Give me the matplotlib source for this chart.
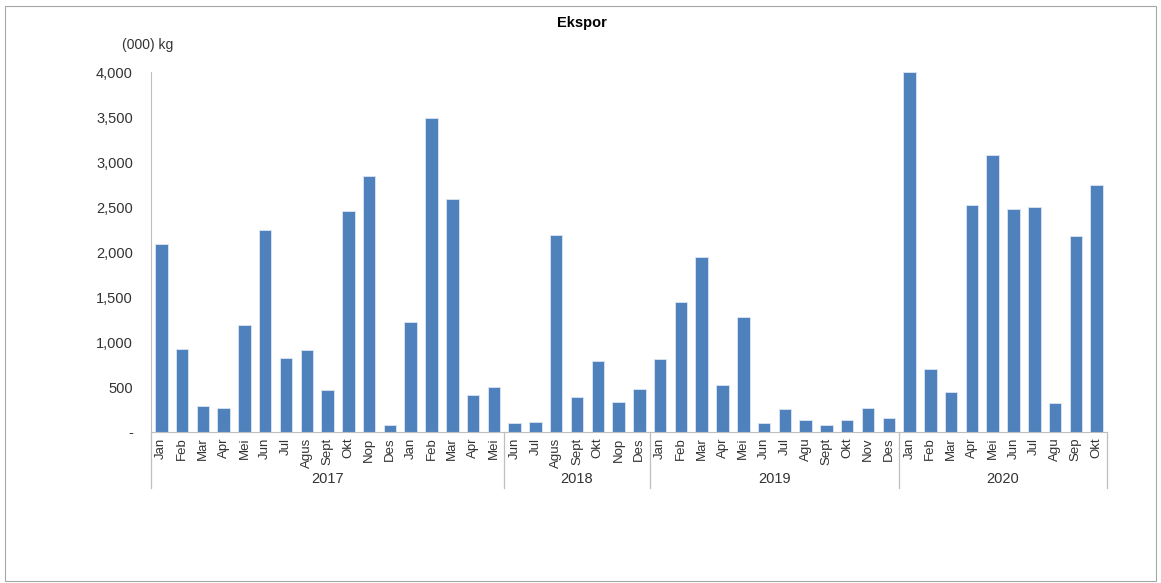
import matplotlib
matplotlib.use("Agg")
import matplotlib.pyplot as plt
from matplotlib.patches import Rectangle
from matplotlib.ticker import FuncFormatter

plt.rcParams['font.family'] = ['Liberation Sans Narrow', 'Liberation Sans', 'DejaVu Sans']

months = ["Jan", "Feb", "Mar", "Apr", "Mei", "Jun", "Jul", "Agus", "Sept", "Okt", "Nop", "Des",
          "Jan", "Feb", "Mar", "Apr", "Mei",
          "Jun", "Jul", "Agus", "Sept", "Okt", "Nop", "Des",
          "Jan", "Feb", "Mar", "Apr", "Mei", "Jun", "Jul", "Agu", "Sept", "Okt", "Nov", "Des",
          "Jan", "Feb", "Mar", "Apr", "Mei", "Jun", "Jul", "Agu", "Sep", "Okt"]

values = [2090, 920, 290, 270, 1190, 2240, 820, 915, 470, 2460, 2850, 75,
          1225, 3490, 2590, 410, 500,
          105, 110, 2185, 385, 790, 335, 475,
          810, 1450, 1940, 520, 1280, 105, 255, 135, 75, 135, 270, 155,
          4000, 697, 440, 2525, 3078, 2474, 2500, 320, 2181, 2748]

years = ["2017", "2018", "2019", "2020"]
year_sizes = [17, 7, 12, 10]

bar_color = "#4F81BD"
line_color = "#BFBFBF"
text_color = "#333333"

fig = plt.figure(figsize=(11.61, 5.83), dpi=100)
fig.patches.append(Rectangle((0.004, 0.003), 0.992, 0.986, transform=fig.transFigure,
                             fill=False, edgecolor="#A6A6A6", linewidth=0.8))

ax = fig.add_axes([0.130, 0.259, 0.8235, 0.6175])
x = list(range(len(values)))
ax.bar(x, values, width=0.6, color=bar_color, edgecolor="#DCE6F2", linewidth=0.6)

ax.set_xlim(-0.5, len(values) - 0.5)
ax.set_ylim(0, 4000)
ax.set_yticks(range(0, 4001, 500))
ax.yaxis.set_major_formatter(FuncFormatter(lambda v, p: "-" if v == 0 else f"{int(v):,}"))
ax.tick_params(axis="y", length=0, labelsize=10.5, pad=13, colors=text_color)
for lbl in ax.get_yticklabels():
    lbl.set_family(["Liberation Sans", "DejaVu Sans"])
ax.set_xticks(x)
ax.set_xticklabels(months, rotation=90, fontsize=9.5, color=text_color)
ax.tick_params(axis="x", length=0, pad=4)

for side in ["top", "right"]:
    ax.spines[side].set_visible(False)
ax.spines["left"].set_color(line_color)
ax.spines["bottom"].set_color(line_color)

# year group separators and labels below the month labels
start = -0.5
trans = ax.get_xaxis_transform()
ax.plot([start, start], [0, -0.155], transform=trans, color=line_color, lw=0.9, clip_on=False)
for yr, n in zip(years, year_sizes):
    end = start + n
    ax.plot([end, end], [0, -0.155], transform=trans, color=line_color, lw=0.9, clip_on=False)
    ax.text((start + end) / 2, -0.13, yr, transform=trans, ha="center", va="center",
            fontsize=10.5, color=text_color, family=["Liberation Sans", "DejaVu Sans"])
    start = end

fig.text(0.501, 0.960, "Ekspor", ha="center", va="center", fontsize=10.5, fontweight="bold")
fig.text(0.105, 0.923, "(000) kg", ha="left", va="center", fontsize=10, color=text_color,
         family=["Liberation Sans", "DejaVu Sans"])

fig.savefig("out.png", dpi=100)
